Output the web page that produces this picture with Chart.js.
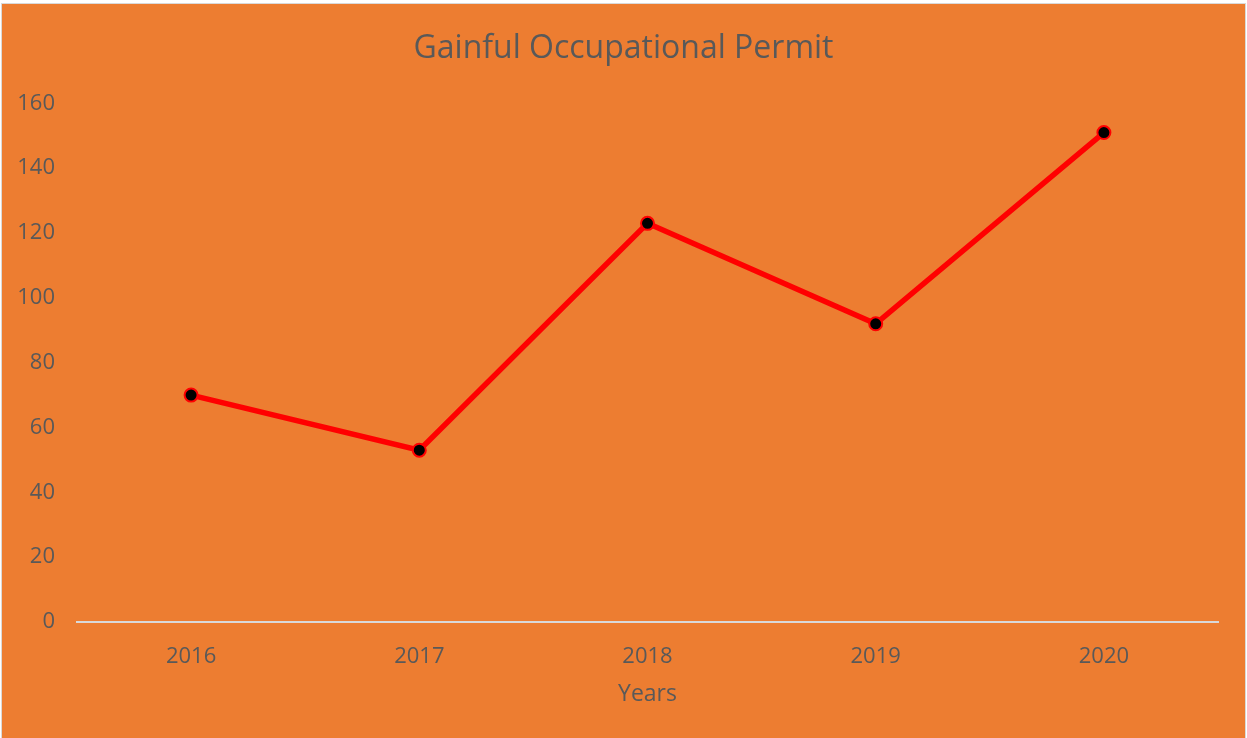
<!DOCTYPE html>
<html>
<head>
<meta charset="utf-8">
<script src="https://cdn.jsdelivr.net/npm/chart.js@4/dist/chart.umd.min.js"></script>
<style>
html,body{margin:0;padding:0;background:#fff;}
#wrap{position:absolute;left:0;top:0;width:1247px;height:738px;}
</style>
</head>
<body>
<div id="wrap"><canvas id="c" width="1247" height="738"></canvas></div>
<script>
const years = ['2016', '2017', '2018', '2019', '2020'];
const permits = [70, 53, 123, 92, 151];
const yTicks = [0, 20, 40, 60, 80, 100, 120, 140, 160];

const bgPlugin = {
  id: 'bg',
  beforeDraw(chart) {
    const ctx = chart.ctx;
    ctx.save();
    ctx.fillStyle = '#ffffff';
    ctx.fillRect(0, 0, chart.width, chart.height);
    ctx.fillStyle = '#ED7D31';
    ctx.fillRect(1, 3, chart.width - 2, chart.height - 3);
    ctx.strokeStyle = '#D9D9D9';
    ctx.lineWidth = 1;
    ctx.strokeRect(1.5, 3.5, chart.width - 3, chart.height);
    ctx.restore();
  }
};

new Chart(document.getElementById('c'), {
  type: 'line',
  data: {
    labels: years,
    datasets: [{
      label: 'Gainful Occupational Permit',
      data: permits,
      borderColor: '#FF0000',
      borderWidth: 5.5,
      backgroundColor: '#000000',
      pointBackgroundColor: '#000000',
      pointBorderColor: '#FF0000',
      pointBorderWidth: 2,
      pointRadius: 6.5,
      tension: 0,
      fill: false
    }]
  },
  options: {
    responsive: false,
    animation: false,
    devicePixelRatio: 1,
    layout: { padding: { left: 0, right: 0, top: 0, bottom: 30 } },
    plugins: {
      legend: { display: false },
      tooltip: { enabled: false },
      title: {
        display: true,
        text: 'Gainful Occupational Permit',
        color: '#595959',
        font: { family: 'Open Sans', size: 32, weight: 'normal' },
        padding: { top: 30, bottom: 35 }
      }
    },
    scales: {
      x: {
        offset: true,
        afterFit(scale) { scale.height = 86; },
        grid: { display: false, drawTicks: false },
        border: { display: true, color: '#D9D9D9', width: 2 },
        ticks: { color: '#595959', font: { family: 'Open Sans', size: 22 }, padding: 22 },
        title: { display: true, text: 'Years', color: '#595959', font: { family: 'Open Sans', size: 23 }, padding: { top: 10, bottom: 0 } }
      },
      y: {
        min: 0, max: 160,
        afterFit(scale) { scale.width = 77; },
        afterBuildTicks(scale) { scale.ticks = yTicks.map(v => ({ value: v })); },
        grid: { display: false, drawTicks: false },
        border: { display: false },
        ticks: { color: '#595959', font: { family: 'Open Sans', size: 22 }, padding: 22 }
      },
      yRightSpace: {
        position: 'right',
        display: true,
        afterFit(scale) { scale.width = 29; },
        grid: { display: false, drawTicks: false },
        border: { display: false },
        ticks: { display: false }
      }
    }
  },
  plugins: [bgPlugin]
});
</script>
</body>
</html>
